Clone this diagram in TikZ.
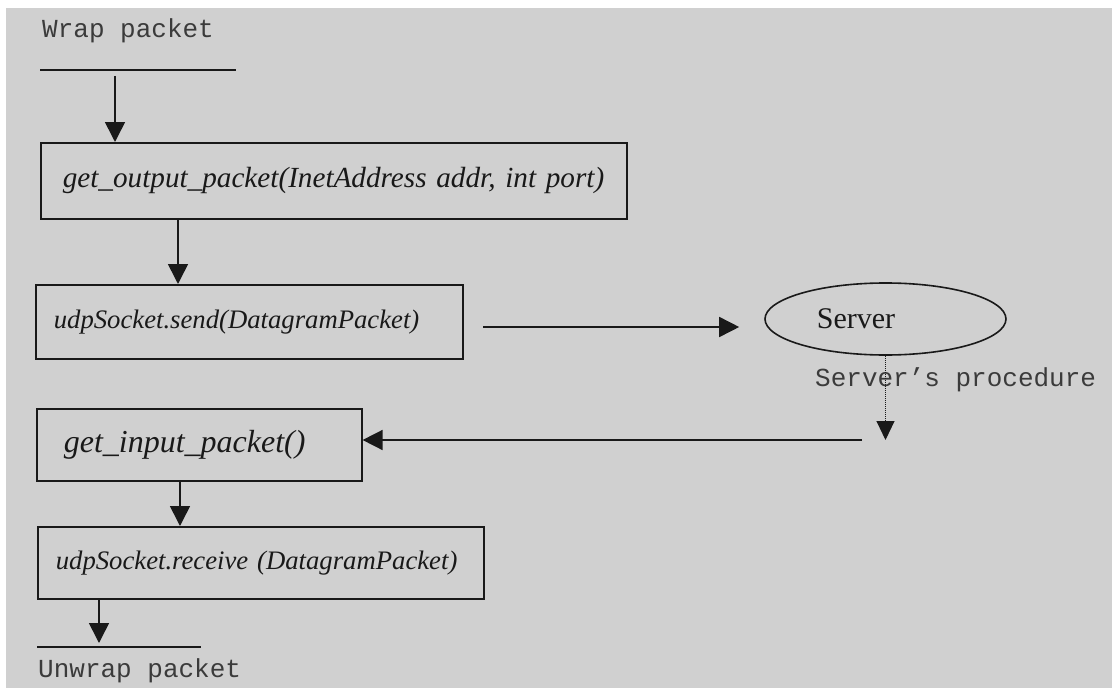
\documentclass[tikz,border=0pt]{standalone}
\usepackage{fontspec}
\setmainfont{Liberation Serif}
\newfontfamily\codefont{Liberation Mono}
\usetikzlibrary{arrows.meta,shapes.geometric,calc}
\definecolor{paper}{RGB}{208,208,208}
\definecolor{ink}{RGB}{25,25,25}
\begin{document}
\begin{tikzpicture}[x=1pt,y=-1pt,
  box/.style={draw=ink, line width=1.6pt, anchor=north west, align=left,
    inner xsep=18pt, inner ysep=0pt, text=ink,
    font=\fontsize{26.7}{32}\selectfont\itshape},
  srvnode/.style={ellipse, draw=ink, line width=1.6pt, inner sep=0pt,
    minimum width=241pt, minimum height=72pt, text=ink,
    font=\fontsize{30}{34}\selectfont},
  mono/.style={anchor=base west, inner sep=0pt, text=ink!85,
    font=\codefont\fontsize{26}{30}\selectfont},
  arr/.style={draw=ink, line width=1.6pt, -{Triangle[width=20pt,length=20pt]}},
  dotarr/.style={draw=ink, line width=1pt, densely dotted,
    -{Triangle[width=18pt,length=19pt]}},
  rule/.style={draw=ink, line width=1.6pt}
]
\useasboundingbox (0,0) rectangle (1117,693);
\fill[white] (0,0) rectangle (1117,693);
\fill[paper] (6,8) rectangle (1112,688);

% texts at ends
\node[mono] (wrap) at (42,38) {Wrap packet};
\coordinate (wl) at (40,70);
\coordinate (wr) at (236,70);
\draw[rule] (wl) -- (wr);

% boxes
\node[box, inner xsep=22pt, text width=542pt, minimum height=76pt,
  font=\fontsize{29.2}{34}\selectfont\itshape] (b1) at (40,142)
  {\mbox{get\_output\_packet(InetAddress addr, int port)}};
\node[box, text width=391pt, minimum height=74pt] (b2) at (35,284)
  {udpSocket.send(DatagramPacket)};
\node[box, inner xsep=27pt, text width=271pt, minimum height=72pt,
  font=\fontsize{32}{36}\selectfont\itshape] (b3) at (36,408)
  {get\_input\_packet()};
\node[box, text width=410pt, minimum height=72pt] (b4) at (37,526)
  {udpSocket.receive (DatagramPacket)};

% server
\node[srvnode] (srv) at (885.5,319) {Server\hspace*{59pt}};
\node[mono] (proc) at (815,386) {Server’s procedure};

% connectors
\coordinate (a1) at (115,76);
\draw[arr] (a1) -- (a1 |- b1.north);
\draw[arr] ([xshift=138pt]b1.south west) -- ([xshift=143pt]b2.north west);
\coordinate (a3) at (483,327);
\draw[arr] (a3) -- ($(a3 -| srv.west)+(-25,0)$);
\coordinate (dt) at (886,440);
\draw[dotarr] (srv.south) -- (srv.south |- dt);
\coordinate (r4) at (862,440);
\draw[arr] (r4) -- (r4 -| b3.east);
\draw[arr] ([xshift=144pt]b3.south west) -- ([xshift=143pt]b4.north west);
\coordinate (ut) at (99,643);
\draw[arr] (ut |- b4.south) -- (ut);
\coordinate (ul) at (37,647);
\coordinate (ur) at (201,647);
\draw[rule] (ul) -- (ur);
\node[mono] (unwrap) at (38,677) {Unwrap packet};
\end{tikzpicture}
\end{document}
